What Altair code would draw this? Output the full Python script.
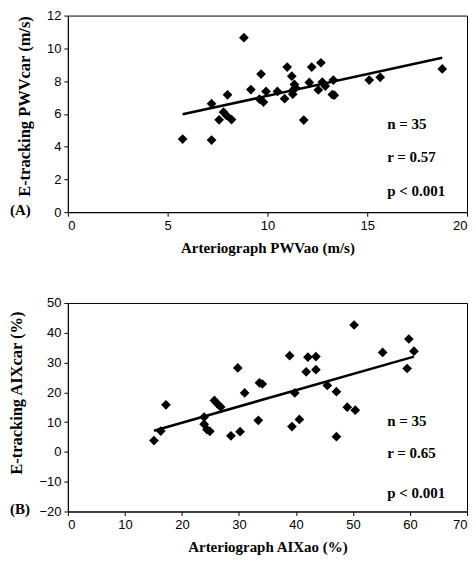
import altair as alt
import pandas as pd

# Panel A: PWV (m/s)
pwv_ao = [5.75, 7.2, 7.2, 7.58, 7.8, 7.95, 8.0, 8.2, 8.82, 9.17, 9.6, 9.68, 9.8, 9.93,
          10.5, 10.86, 10.99, 11.22, 11.27, 11.35, 11.4, 11.82, 12.1, 12.22, 12.55,
          12.68, 12.75, 12.9, 13.25, 13.3, 13.35, 15.1, 15.65, 18.76, 11.25]
pwv_car = [4.46, 4.4, 6.62, 5.64, 6.1, 5.9, 7.16, 5.65, 10.65, 7.48, 6.9, 8.43, 6.72, 7.37,
           7.37, 6.93, 8.86, 8.3, 7.2, 7.8, 7.6, 5.62, 7.92, 8.86, 7.46,
           9.12, 7.94, 7.7, 7.18, 8.06, 7.14, 8.06, 8.23, 8.74, 7.4]

# Panel B: AIx (%)
aix_ao = [15.1, 16.3, 17.2, 23.9, 23.9, 24.4, 24.9, 25.7, 26.2, 26.8, 28.6, 29.8, 30.2,
          31.0, 33.4, 33.6, 34.1, 38.9, 39.3, 39.8, 40.6, 41.8, 42.1, 43.5, 43.5, 45.5,
          47.1, 47.1, 49.0, 50.2, 50.4, 55.2, 59.5, 59.8, 60.7]
aix_car = [3.8, 7.0, 15.8, 11.7, 9.3, 7.5, 6.9, 17.3, 16.2, 15.1, 5.4, 28.2, 6.8,
           19.8, 10.6, 23.2, 22.8, 32.3, 8.5, 19.8, 10.9, 26.9, 31.8, 32.0, 27.6, 22.3,
           20.2, 5.1, 15.0, 42.6, 14.0, 33.4, 28.0, 37.9, 33.8]

stats_a = ["n = 35", "r = 0.57", "p < 0.001"]
stats_b = ["n = 35", "r = 0.65", "p < 0.001"]

x_ticks_a = [0, 5, 10, 15, 20]
y_ticks_a = [0, 2, 4, 6, 8, 10, 12]
x_ticks_b = [0, 10, 20, 30, 40, 50, 60, 70]
y_ticks_b = [-20, -10, 0, 10, 20, 30, 40, 50]

SERIF = "Liberation Serif"
SANS = "Liberation Sans"


def panel(xs, ys, xdom, ydom, xt, yt, xtitle, ytitle, stats, tag, stat_frac, w, h, title_frac):
    df = pd.DataFrame({"x": xs, "y": ys})
    base = alt.Chart(df)
    xenc = alt.X("x:Q", scale=alt.Scale(domain=xdom, nice=False, zero=False),
                 axis=alt.Axis(values=xt, title=xtitle, grid=False, labelOverlap=False))
    yenc = alt.Y("y:Q", scale=alt.Scale(domain=ydom, nice=False, zero=False),
                 axis=alt.Axis(values=yt, title=ytitle, grid=False, labelOverlap=False,
                               labelSeparation=0, tickCount=len(yt), titleY=h * title_frac))
    pts = base.mark_point(shape="diamond", filled=True, color="black", size=95, opacity=1).encode(
        x=xenc, y=yenc)
    line = base.transform_regression("x", "y").mark_line(color="black", strokeWidth=2.6).encode(
        x=xenc, y=yenc)
    layers = [pts, line]
    for s, f in zip(stats, stat_frac):
        layers.append(
            alt.Chart(pd.DataFrame({"t": [s]})).mark_text(
                font=SERIF, fontWeight="bold", fontSize=15, align="left", baseline="middle",
                color="black").encode(text="t:N", x=alt.value(w * 0.80), y=alt.value(h * f))
        )
    layers.append(
        alt.Chart(pd.DataFrame({"t": [tag]})).mark_text(
            font=SERIF, fontWeight="bold", fontSize=15, align="left", baseline="middle",
            color="black").encode(text="t:N", x=alt.value(-58), y=alt.value(h - 2))
    )
    return alt.layer(*layers).properties(width=w, height=h)


top = panel(pwv_ao, pwv_car, [0, 20], [0, 12], x_ticks_a, y_ticks_a,
            "Arteriograph PWVao (m/s)", "E-tracking PWVcar (m/s)", stats_a, "(A)",
            [0.55, 0.72, 0.89], 400, 197, 0.46)
bottom = panel(aix_ao, aix_car, [0, 70], [-20, 50], x_ticks_b, y_ticks_b,
               "Arteriograph AIXao (%)", "E-tracking AIXcar (%)", stats_b, "(B)",
               [0.565, 0.72, 0.91], 400, 209, 0.43)

chart = alt.vconcat(top, bottom, spacing=40).properties(
    padding={"left": 0, "top": 0, "right": 0, "bottom": 0}
).configure_view(
    stroke="black", strokeWidth=1
).configure_axis(
    domainColor="black", tickColor="black", tickSize=4, labelColor="black",
    labelFont=SANS, labelFontSize=13, labelPadding=3, labelOverlap=False,
    titleFont=SERIF, titleFontSize=15, titleFontWeight="bold", titleColor="black",
    titlePadding=8
).configure_axisY(titlePadding=14, titleFontSize=16.5)

chart.save("out.html", embed_options={"renderer": "svg", "actions": False})
